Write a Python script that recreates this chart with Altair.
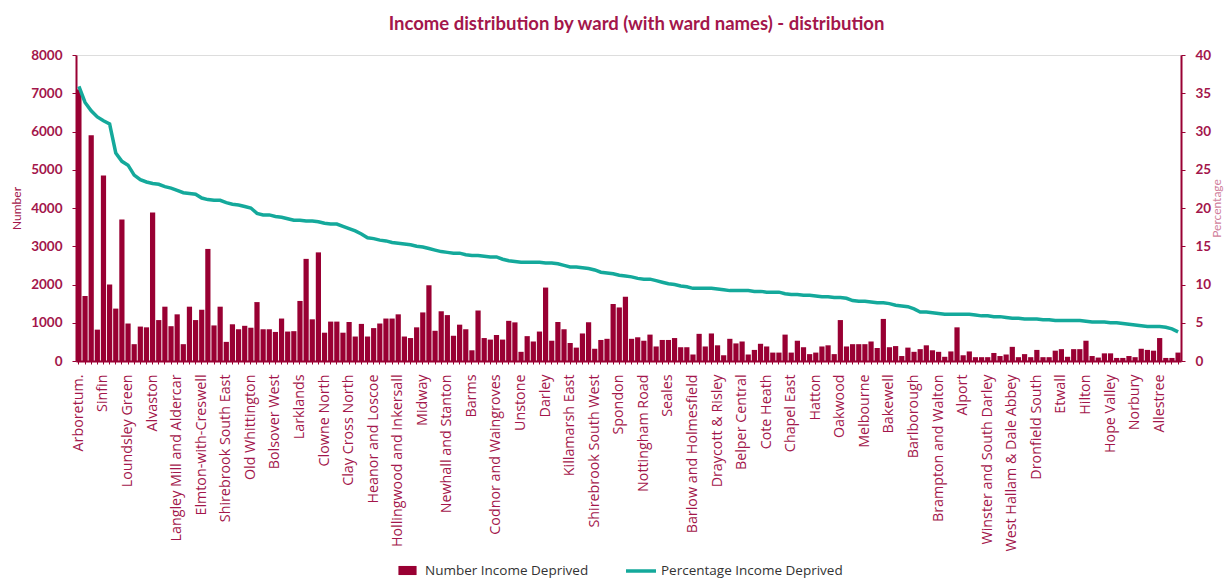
import json
import altair as alt
import pandas as pd

# Ward names shown on the category axis (every 4th ward is labelled)
ward_labels = [
    "Arboretum.", "Sinfin", "Loundsley Green", "Alvaston", "Langley Mill and Aldercar",
    "Elmton-with-Creswell", "Shirebrook South East", "Old Whittington", "Bolsover West",
    "Larklands", "Clowne North", "Clay Cross North", "Heanor and Loscoe",
    "Hollingwood and Inkersall", "Midway", "Newhall and Stanton", "Barms",
    "Codnor and Waingroves", "Unstone", "Darley", "Killamarsh East",
    "Shirebrook South West", "Spondon", "Nottingham Road", "Seales",
    "Barlow and Holmesfield", "Draycott & Risley", "Belper Central", "Cote Heath",
    "Chapel East", "Hatton", "Oakwood", "Melbourne", "Bakewell", "Barlborough",
    "Brampton and Walton", "Alport", "Winster and South Darley",
    "West Hallam & Dale Abbey", "Dronfield South", "Etwall", "Hilton",
    "Hope Valley", "Norbury", "Allestree",
]

number_income_deprived = [
    7100, 1700, 5900, 820, 4850, 2000, 1370, 3700, 980, 440,
    900, 880, 3880, 1070, 1420, 910, 1220, 440, 1420, 1070,
    1340, 2930, 930, 1420, 500, 960, 830, 920, 870, 1540,
    830, 830, 760, 1110, 770, 780, 1570, 2670, 1090, 2840,
    740, 1030, 1030, 740, 1020, 640, 970, 640, 860, 980,
    1110, 1110, 1220, 640, 600, 880, 1270, 1980, 790, 1300,
    1200, 660, 950, 830, 280, 1320, 600, 560, 680, 560,
    1050, 1010, 240, 650, 510, 770, 1920, 530, 1020, 830,
    470, 350, 720, 1010, 320, 550, 580, 1490, 1400, 1680,
    580, 620, 530, 690, 380, 550, 550, 600, 360, 360,
    170, 710, 380, 720, 410, 150, 580, 460, 510, 170,
    290, 450, 380, 220, 220, 690, 220, 530, 360, 180,
    220, 380, 410, 180, 1070, 380, 440, 440, 440, 510,
    340, 1100, 360, 390, 130, 350, 240, 310, 410, 280,
    240, 110, 250, 880, 150, 250, 100, 100, 100, 210,
    130, 170, 370, 100, 180, 100, 290, 100, 100, 270,
    310, 110, 310, 310, 530, 130, 90, 200, 200, 80,
    80, 130, 100, 320, 290, 270, 600, 80, 80, 220,
]

percentage_income_deprived = [
    35.9, 33.8, 32.7, 31.9, 31.4, 31.0, 27.2, 26.1, 25.6, 24.3,
    23.7, 23.4, 23.2, 23.1, 22.8, 22.6, 22.3, 22.0, 21.9, 21.8,
    21.3, 21.1, 21.0, 21.0, 20.7, 20.5, 20.4, 20.2, 20.0, 19.3,
    19.1, 19.1, 18.9, 18.8, 18.6, 18.4, 18.4, 18.3, 18.3, 18.2,
    18.0, 17.9, 17.9, 17.6, 17.3, 17.0, 16.6, 16.1, 16.0, 15.8,
    15.7, 15.5, 15.4, 15.3, 15.2, 15.0, 14.9, 14.7, 14.5, 14.3,
    14.2, 14.1, 14.1, 13.9, 13.8, 13.8, 13.7, 13.6, 13.6, 13.3,
    13.1, 13.0, 12.9, 12.9, 12.9, 12.9, 12.8, 12.8, 12.7, 12.5,
    12.3, 12.3, 12.2, 12.1, 11.9, 11.6, 11.5, 11.4, 11.2, 11.1,
    11.0, 10.8, 10.7, 10.7, 10.5, 10.3, 10.1, 10.0, 9.8, 9.7,
    9.5, 9.5, 9.5, 9.5, 9.4, 9.3, 9.2, 9.2, 9.2, 9.2,
    9.1, 9.1, 9.0, 9.0, 9.0, 8.8, 8.7, 8.7, 8.6, 8.6,
    8.5, 8.4, 8.4, 8.3, 8.3, 8.2, 7.9, 7.8, 7.8, 7.7,
    7.6, 7.6, 7.5, 7.3, 7.2, 7.1, 6.8, 6.4, 6.4, 6.3,
    6.2, 6.1, 6.1, 6.1, 6.1, 6.1, 6.0, 5.9, 5.9, 5.8,
    5.8, 5.7, 5.6, 5.6, 5.5, 5.5, 5.5, 5.4, 5.4, 5.3,
    5.3, 5.3, 5.3, 5.3, 5.2, 5.1, 5.1, 5.1, 5.0, 5.0,
    4.9, 4.8, 4.7, 4.6, 4.5, 4.5, 4.5, 4.4, 4.2, 3.8,
]

left_ticks = [0, 1000, 2000, 3000, 4000, 5000, 6000, 7000, 8000]
right_ticks = [0, 5, 10, 15, 20, 25, 30, 35, 40]

BAR = "#990033"
LINE = "#14A99B"
TEXT = "#A3164B"
FONT = "Lato"
LFONT = "Open Sans"

df = pd.DataFrame({
    "idx": list(range(len(number_income_deprived))),
    "number": number_income_deprived,
    "pct": percentage_income_deprived,
    "s1": "Number Income Deprived",
    "s2": "Percentage Income Deprived",
})

names_js = json.dumps(ward_labels).replace('"', "'")
label_expr = f"datum.value % 4 == 0 ? {names_js}[floor(datum.value / 4)] : ''"

x_enc = alt.X(
    "idx:O",
    scale=alt.Scale(paddingInner=0.15, paddingOuter=0.05),
    axis=alt.Axis(
        title=None, labelExpr=label_expr, labelAngle=270, labelFont=LFONT,
        labelFontSize=14.3, labelColor=TEXT, labelPadding=10, tickSize=3,
        tickColor=BAR, domainColor=BAR, domainWidth=2, labelOverlap=False,
        labelLimit=300,
    ),
)

bars = alt.Chart(df).mark_bar().encode(
    x=x_enc,
    y=alt.Y(
        "number:Q",
        scale=alt.Scale(domain=[0, 8000]),
        axis=alt.Axis(
            title="Number", values=left_ticks, format="d", orient="left", titleAngle=270,
            titleX=-60, titleY=153, titleAlign="center", titleBaseline="middle",
            titleColor=TEXT, titleFont=FONT, titleFontSize=12, titleFontWeight="normal",
            labelColor=TEXT, labelFont=FONT, labelFontSize=13.5, labelFontWeight="bold",
            labelPadding=10, tickSize=4, tickColor=BAR, domainColor=BAR, domainWidth=2,
            grid=False,
        ),
    ),
    fill=alt.Fill(
        "s1:N",
        scale=alt.Scale(range=[BAR]),
        legend=alt.Legend(
            title=None, orient="none", legendX=322, legendY=506, direction="horizontal",
            symbolType="M-1,-0.5H1V0.5H-1Z", symbolSize=330, symbolStrokeWidth=0,
            labelFont=LFONT, labelFontSize=13.5, labelColor="#333333", labelOffset=8,
            labelLimit=400,
        ),
    ),
)

line = alt.Chart(df).mark_line(strokeWidth=3.5).encode(
    x=alt.X("idx:O"),
    y=alt.Y(
        "pct:Q",
        scale=alt.Scale(domain=[0, 40]),
        axis=alt.Axis(
            title="Percentage", values=right_ticks, format="d", orient="right", titleAngle=270,
            titleX=35, titleY=153, titleAlign="center", titleBaseline="middle",
            titleColor="#D07E9A", titleFont=FONT, titleFontSize=12, titleFontWeight="normal",
            labelColor=TEXT, labelFont=FONT, labelFontSize=13.5, labelFontWeight="bold",
            labelPadding=10, tickSize=4, tickColor=BAR, domainColor=BAR, domainWidth=2,
            grid=False,
        ),
    ),
    stroke=alt.Stroke(
        "s2:N",
        scale=alt.Scale(range=[LINE]),
        legend=alt.Legend(
            title=None, orient="none", legendX=548, legendY=499, direction="horizontal",
            symbolType="stroke", symbolSize=900, symbolStrokeWidth=3.5,
            labelFont=LFONT, labelFontSize=13.5, labelColor="#333333", labelOffset=3,
            labelLimit=400,
        ),
    ),
)

chart = (
    alt.layer(bars, line)
    .resolve_scale(y="independent")
    .properties(
        width=1105,
        height=306,
        autosize=alt.AutoSizeParams(type="none"),
        padding={"left": 68, "top": 47, "right": 43, "bottom": 217},
        title=alt.TitleParams(
            "Income distribution by ward  (with ward names) - distribution",
            font=FONT, fontSize=18.5, fontWeight="bold", color=TEXT,
            anchor="middle", offset=15, dx=8,
        ),
    )
    .configure_view(stroke=None)
    .configure(background="white")
)

chart.save("out.html", embed_options={"renderer": "svg", "actions": False})
